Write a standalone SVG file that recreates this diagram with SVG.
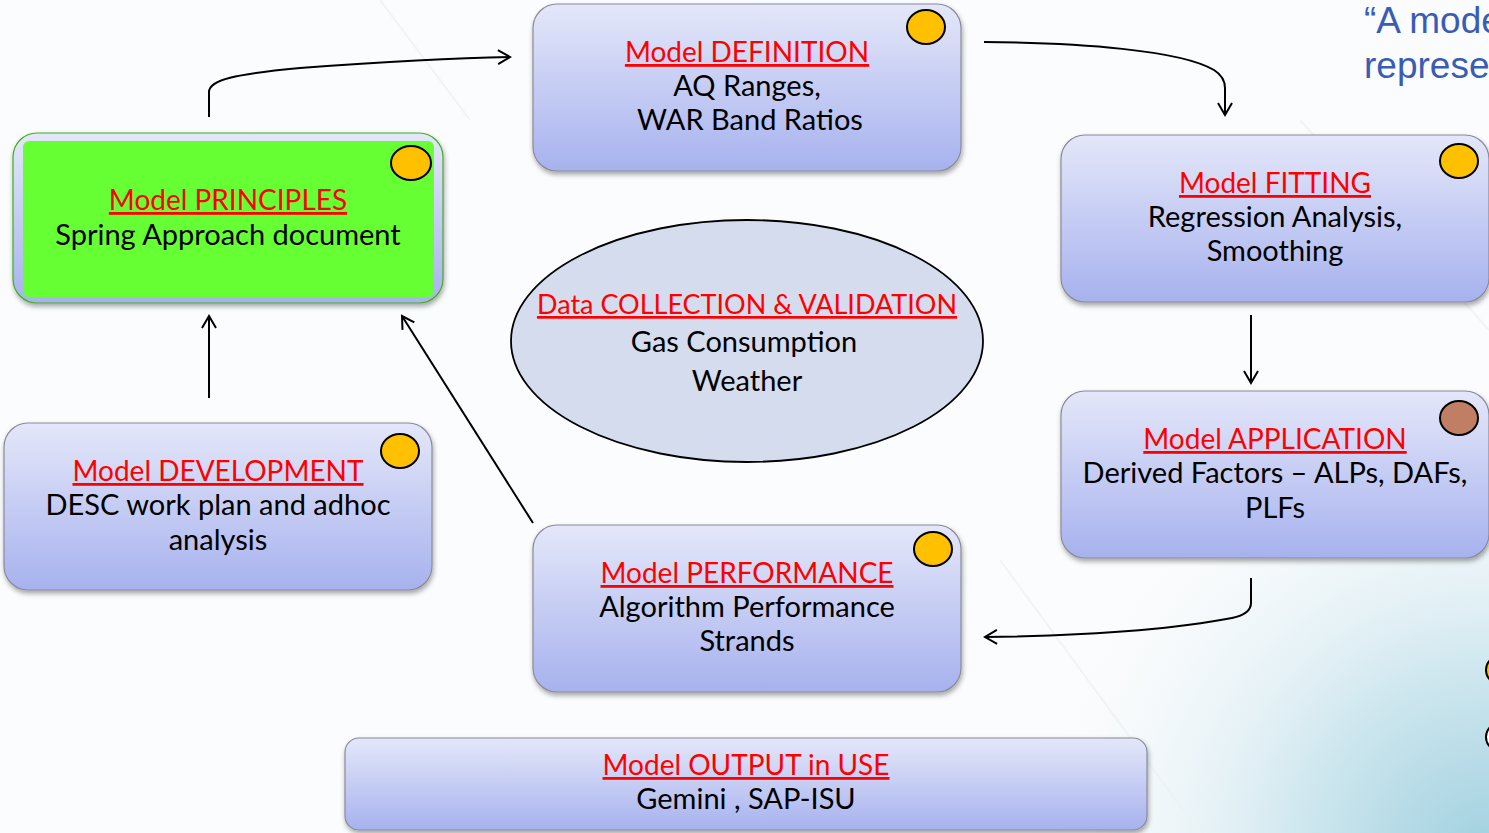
<svg xmlns="http://www.w3.org/2000/svg" width="1489" height="833" viewBox="0 0 1489 833">
<defs>
<linearGradient id="nodeGrad" x1="0" y1="0" x2="0" y2="1">
<stop offset="0" stop-color="#E4E7F9"/>
<stop offset="1" stop-color="#A7B2EE"/>
</linearGradient>
<radialGradient id="bgGrad" cx="1489" cy="860" r="480" gradientUnits="userSpaceOnUse">
<stop offset="0" stop-color="#9FD0DF"/>
<stop offset="0.4" stop-color="#CFE7EF"/>
<stop offset="1" stop-color="#FBFCFD" stop-opacity="0"/>
</radialGradient>
<filter id="shadow" x="-5%" y="-5%" width="110%" height="120%">
<feDropShadow dx="1" dy="3" stdDeviation="2.5" flood-color="#000" flood-opacity="0.35"/>
</filter>
<marker id="arrow" markerUnits="userSpaceOnUse" markerWidth="16" markerHeight="16" refX="13" refY="7" orient="auto" overflow="visible">
<path d="M1,0 L13,7 L1,14" fill="none" stroke="#000" stroke-width="2"/>
</marker>
<style>
.node{fill:url(#nodeGrad);stroke:#8A8A9A;stroke-width:1.2;filter:url(#shadow)}
.dot{fill:#FFC000;stroke:#000;stroke-width:2}
.t{font-family:Lato,"Liberation Sans",sans-serif;font-size:29px;text-anchor:middle}
.title{fill:#FF0000;text-decoration:underline;font-size:28px}
.body{fill:#000}
.conn{fill:none;stroke:#000;stroke-width:2;marker-end:url(#arrow)}
.quote{font-family:"Liberation Sans",Arial,sans-serif;font-size:37px;fill:#3A5CB3}
</style>
</defs>
<rect x="0" y="0" width="1489" height="833" fill="#FBFCFD"/>
<rect x="0" y="0" width="1489" height="833" fill="url(#bgGrad)"/>
<g stroke="#EEF1F4" stroke-width="2" fill="none" opacity="0.8">
<path d="M380,0 L470,120"/>
<path d="M1000,560 L1200,833"/>
<path d="M1300,120 L1489,330"/>
</g>
<text class="quote" x="1364" y="33">“A mode</text>
<text class="quote" x="1364" y="78">represe</text>
<circle cx="1500" cy="670" r="14" fill="#FFC000" stroke="#000" stroke-width="2"/>
<circle cx="1500" cy="737" r="14" fill="#FFFFFF" stroke="#000" stroke-width="2"/>

<g id="connectors">
<path class="conn" d="M209,117 V92 C209,80 235,74 300,68 C380,62 450,58 510,57"/>
<path class="conn" d="M984,42 C1080,43 1180,50 1214,70 Q1225,77 1225,88 V115"/>
<path class="conn" d="M1251,315 V383"/>
<path class="conn" d="M1251,578 V603 Q1251,614 1232,618 C1160,632 1060,636 985,637"/>
<path class="conn" d="M209,398 V316"/>
<path class="conn" d="M533,523 L402,316"/>
</g>

<g id="principles">
<rect class="node" x="13" y="133" width="430" height="170" rx="24" style="stroke:#3FAF1F"/>
<rect x="23" y="141" width="411" height="156" rx="6" fill="#66FF33"/>
<ellipse class="dot" cx="411" cy="163" rx="20" ry="17"/>
<text class="t title" x="228" y="210">Model PRINCIPLES</text>
<text class="t body" x="228" y="245">Spring Approach document</text>
</g>

<g id="definition">
<rect class="node" x="533" y="4" width="428" height="167" rx="24"/>
<ellipse class="dot" cx="926" cy="27" rx="19" ry="17"/>
<text class="t title" x="747" y="62">Model DEFINITION</text>
<text class="t body" x="747" y="96">AQ Ranges,</text>
<text class="t body" x="750" y="130">WAR Band Ratios</text>
</g>

<g id="fitting">
<rect class="node" x="1061" y="135" width="428" height="167" rx="24"/>
<ellipse class="dot" cx="1459" cy="161" rx="19" ry="17"/>
<text class="t title" x="1275" y="193">Model FITTING</text>
<text class="t body" x="1275" y="227">Regression Analysis,</text>
<text class="t body" x="1275" y="261">Smoothing</text>
</g>

<g id="application">
<rect class="node" x="1061" y="391" width="428" height="167" rx="24"/>
<ellipse cx="1459" cy="418" rx="19" ry="17" fill="#C07F65" stroke="#000" stroke-width="2"/>
<text class="t title" x="1275" y="449">Model APPLICATION</text>
<text class="t body" x="1275" y="483">Derived Factors – ALPs, DAFs,</text>
<text class="t body" x="1275" y="518">PLFs</text>
</g>

<g id="performance">
<rect class="node" x="533" y="525" width="428" height="167" rx="24"/>
<ellipse class="dot" cx="933" cy="549" rx="19" ry="17"/>
<text class="t title" x="747" y="583">Model PERFORMANCE</text>
<text class="t body" x="747" y="617">Algorithm Performance</text>
<text class="t body" x="747" y="651">Strands</text>
</g>

<g id="development">
<rect class="node" x="4" y="423" width="428" height="167" rx="24"/>
<ellipse class="dot" cx="400" cy="451" rx="19" ry="17"/>
<text class="t title" x="218" y="481">Model DEVELOPMENT</text>
<text class="t body" x="218" y="515">DESC work plan and adhoc</text>
<text class="t body" x="218" y="550">analysis</text>
</g>

<g id="output">
<rect class="node" x="345" y="738" width="802" height="92" rx="14"/>
<text class="t title" x="746" y="775">Model OUTPUT in USE</text>
<text class="t body" x="746" y="809">Gemini , SAP-ISU</text>
</g>

<g id="collection">
<ellipse cx="747" cy="341" rx="236" ry="121" fill="#D5DCEE" stroke="#000" stroke-width="1.8"/>
<text class="t title" x="747" y="314" style="font-size:27px">Data COLLECTION &amp; VALIDATION</text>
<text class="t body" x="744" y="352">Gas Consumption</text>
<text class="t body" x="747" y="391">Weather</text>
</g>
</svg>
